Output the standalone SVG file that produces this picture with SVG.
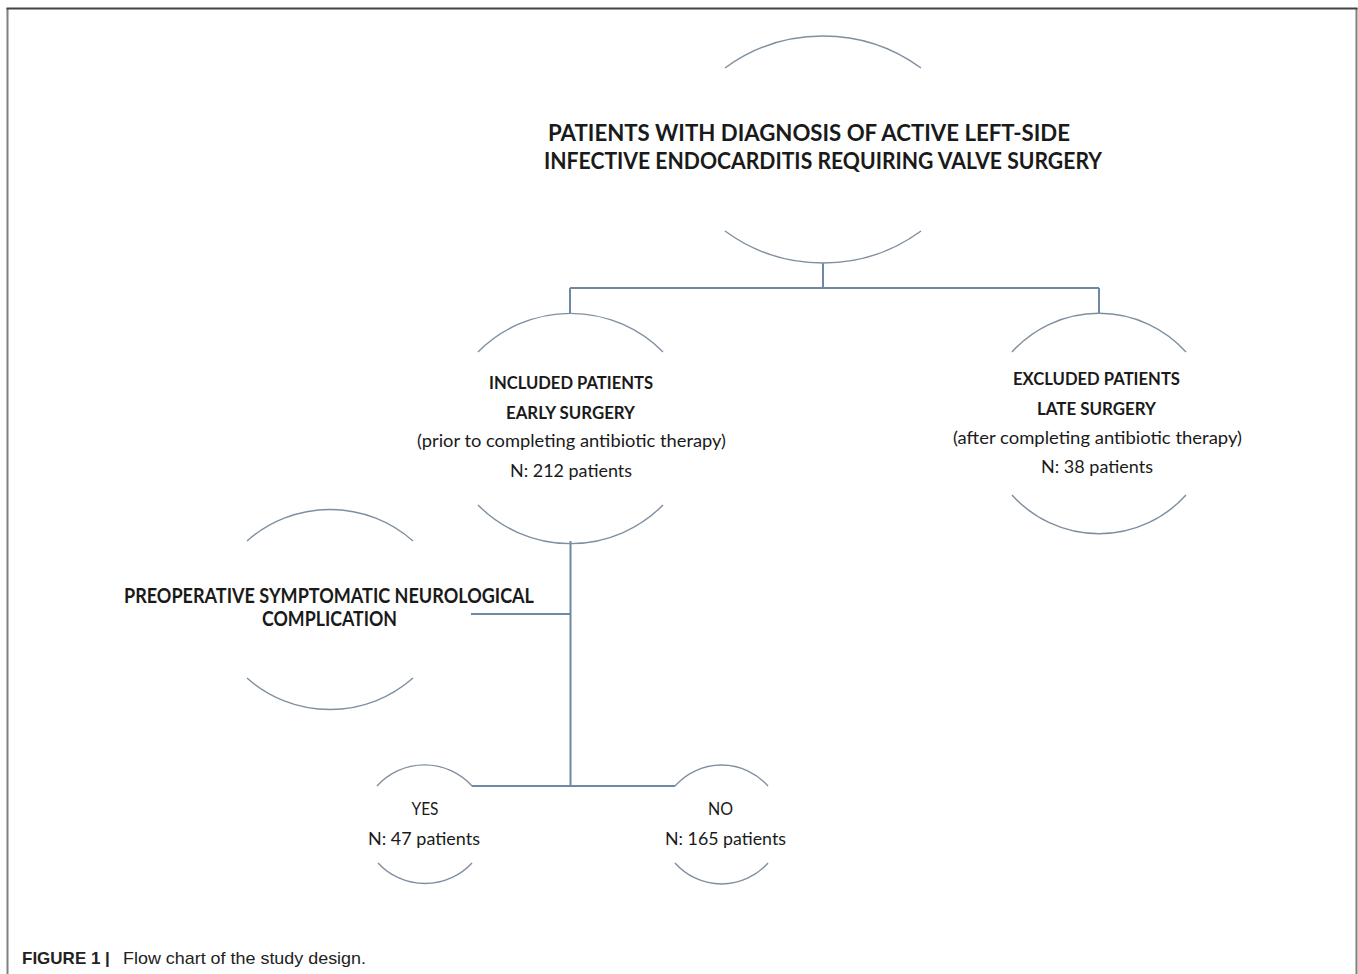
<svg xmlns="http://www.w3.org/2000/svg" width="1358" height="974" viewBox="0 0 1358 974">
<style>
.arc{fill:none;stroke:#7f8fa0;stroke-width:1.4}
.con{fill:none;stroke:#6f88a3;stroke-width:2}
.t{font-family:Lato,"Open Sans","Liberation Sans",sans-serif;fill:#1a1a1a;text-anchor:middle}
.b{font-weight:bold}
.big{font-size:22px}
.mid{font-size:16.5px}
.bm{font-size:20.5px}
.cap{font-family:"Liberation Sans",Arial,sans-serif;font-size:17px;fill:#222}
</style>
<rect x="0" y="0" width="1358" height="974" fill="#ffffff"/>
<g id="frame">
<line x1="7.5" y1="8" x2="7.5" y2="974" stroke="#808080" stroke-width="2"/>
<line x1="1356.5" y1="8" x2="1356.5" y2="974" stroke="#808080" stroke-width="2"/>
<line x1="6.5" y1="8.5" x2="1357.5" y2="8.5" stroke="#444" stroke-width="2"/>
</g>
<g id="connectors">
<path class="con" d="M823 263 V288 M570 288 H1099 M570 288 V313 M1099 288 V313"/>
<path class="con" d="M570.5 541 V786 M471 614 H570.5 M472 786 H675"/>
</g>
<g id="node-top">
<path class="arc" d="M725 68 A166 166 0 0 1 921 68"/>
<path class="arc" d="M725 231 A166 166 0 0 0 921 231"/>
<text class="t b big" x="809" y="141" textLength="522" lengthAdjust="spacingAndGlyphs">PATIENTS WITH DIAGNOSIS OF ACTIVE LEFT-SIDE</text>
<text class="t b big" x="823" y="169" textLength="558" lengthAdjust="spacingAndGlyphs">INFECTIVE ENDOCARDITIS REQUIRING VALVE SURGERY</text>
</g>
<g id="node-included">
<path class="arc" d="M478 352 A130 130 0 0 1 663 352"/>
<path class="arc" d="M478 505 A130 130 0 0 0 663 505"/>
<text class="t b mid" x="571" y="389" textLength="164" lengthAdjust="spacingAndGlyphs">INCLUDED PATIENTS</text>
<text class="t b mid" x="570.5" y="419" textLength="129" lengthAdjust="spacingAndGlyphs">EARLY SURGERY</text>
<text class="t mid" x="571.5" y="447" textLength="309" lengthAdjust="spacingAndGlyphs">(prior to completing antibiotic therapy)</text>
<text class="t mid" x="571" y="477" textLength="122" lengthAdjust="spacingAndGlyphs">N: 212 patients</text>
</g>
<g id="node-excluded">
<path class="arc" d="M1012 352 A117 117 0 0 1 1186 352"/>
<path class="arc" d="M1012 495 A117 117 0 0 0 1186 495"/>
<text class="t b mid" x="1096.5" y="385" textLength="167" lengthAdjust="spacingAndGlyphs">EXCLUDED PATIENTS</text>
<text class="t b mid" x="1096.5" y="415" textLength="119" lengthAdjust="spacingAndGlyphs">LATE SURGERY</text>
<text class="t mid" x="1097.5" y="444" textLength="289" lengthAdjust="spacingAndGlyphs">(after completing antibiotic therapy)</text>
<text class="t mid" x="1097" y="473" textLength="112" lengthAdjust="spacingAndGlyphs">N: 38 patients</text>
</g>
<g id="node-preop">
<path class="arc" d="M247 541 A125 125 0 0 1 413 541"/>
<path class="arc" d="M247 678 A125 125 0 0 0 413 678"/>
<text class="t b bm" x="329" y="603" textLength="410" lengthAdjust="spacingAndGlyphs">PREOPERATIVE SYMPTOMATIC NEUROLOGICAL</text>
<text class="t b bm" x="329.5" y="626" textLength="135" lengthAdjust="spacingAndGlyphs">COMPLICATION</text>
</g>
<g id="node-yes">
<path class="arc" d="M377 786 A64 64 0 0 1 472 786"/>
<path class="arc" d="M378 863 A64 64 0 0 0 472 863"/>
<text class="t mid" x="425" y="815" textLength="27" lengthAdjust="spacingAndGlyphs">YES</text>
<text class="t mid" x="424" y="845" textLength="112" lengthAdjust="spacingAndGlyphs">N: 47 patients</text>
</g>
<g id="node-no">
<path class="arc" d="M675 786 A62 62 0 0 1 768 786"/>
<path class="arc" d="M675 863 A62 62 0 0 0 768 863"/>
<text class="t mid" x="720.5" y="815" textLength="25" lengthAdjust="spacingAndGlyphs">NO</text>
<text class="t mid" x="725.5" y="845" textLength="121" lengthAdjust="spacingAndGlyphs">N: 165 patients</text>
</g>
<g id="caption">
<text class="cap" x="22" y="964"><tspan font-weight="bold">FIGURE 1 |</tspan><tspan x="123" textLength="243" lengthAdjust="spacingAndGlyphs">Flow chart of the study design.</tspan></text>
</g>
</svg>
